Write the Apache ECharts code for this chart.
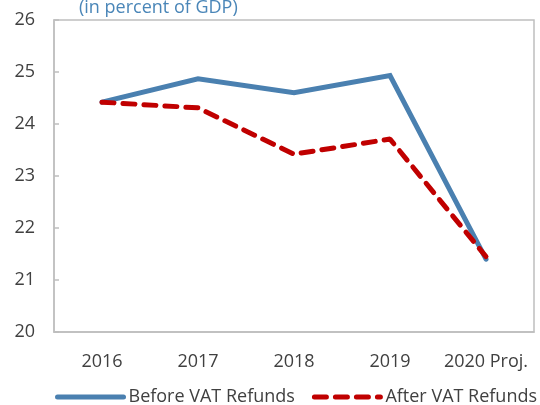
<!DOCTYPE html>
<html><head><meta charset="utf-8">
<script src="https://cdn.jsdelivr.net/npm/echarts@6/dist/echarts.min.js"></script>
<style>html,body{margin:0;padding:0;background:#fff}#c{width:540px;height:405px}</style>
</head><body><div id="c"></div>
<script>
const categories = ['2016', '2017', '2018', '2019', '2020 Proj.'];
const beforeVAT = [24.42, 24.87, 24.6, 24.93, 21.4];
const afterVAT = [24.42, 24.31, 23.42, 23.71, 21.45];
const titleText = '(in percent of GDP)';
const seriesNames = ['Before VAT Refunds', 'After VAT Refunds'];

const FONT = '"Open Sans", sans-serif';
const chart = echarts.init(document.getElementById('c'), null, {renderer: 'canvas'});
chart.setOption({
  animation: false,
  title: {
    text: titleText, left: 74, top: -6,
    textStyle: {color: '#4a86b8', fontSize: 18, fontWeight: 'normal', fontFamily: FONT}
  },
  grid: {left: 54, right: 6, top: 20, bottom: 73, show: true, borderColor: '#bfbfbf', borderWidth: 1.5},
  legend: {
    orient: 'horizontal', bottom: -1, left: 55, width: 485, padding: 0,
    itemWidth: 66, itemHeight: 14, itemGap: 17,
    textStyle: {color: '#404040', fontSize: 18, fontFamily: FONT},
    itemStyle: {opacity: 0},
    lineStyle: {width: 5},
    data: seriesNames
  },
  xAxis: {
    type: 'category', data: categories, boundaryGap: true,
    axisLine: {lineStyle: {color: '#bfbfbf', width: 1.5}},
    axisTick: {inside: true, length: 6, lineStyle: {color: '#bfbfbf', width: 1.5}},
    axisLabel: {color: '#404040', fontSize: 18, fontFamily: FONT, margin: 21, interval: 0}
  },
  yAxis: {
    type: 'value', min: 20, max: 26, interval: 1,
    axisLine: {show: true, lineStyle: {color: '#bfbfbf', width: 1.5}},
    axisTick: {show: true, inside: true, length: 5, lineStyle: {color: '#bfbfbf', width: 1.5}},
    splitLine: {show: false},
    axisLabel: {color: '#404040', fontSize: 18, fontFamily: FONT, margin: 19}
  },
  series: [
    {name: seriesNames[0], type: 'line', data: beforeVAT, symbol: 'none',
     lineStyle: {color: '#4a80b0', width: 5, cap: 'round', join: 'miter'}, itemStyle: {color: '#4a80b0'}},
    {name: seriesNames[1], type: 'line', data: afterVAT, symbol: 'none',
     lineStyle: {color: '#c00000', width: 5, type: [12, 9], cap: 'round'}, itemStyle: {color: '#c00000'}}
  ]
});
</script></body></html>
